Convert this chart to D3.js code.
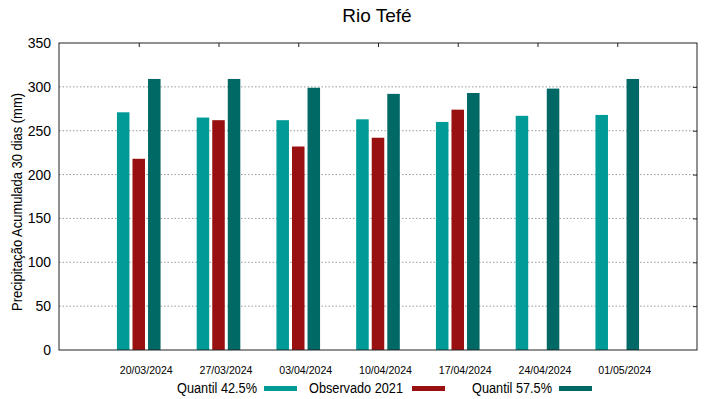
<!DOCTYPE html>
<html>
<head>
<meta charset="utf-8">
<script src="https://cdn.jsdelivr.net/npm/d3@7"></script>
<style>
  body { margin: 0; background: #fff; }
  text { font-family: "Liberation Sans", Arial, sans-serif; }
</style>
</head>
<body>
<svg id="chart" width="719" height="399"></svg>
<script>
const dates = ["20/03/2024", "27/03/2024", "03/04/2024", "10/04/2024", "17/04/2024", "24/04/2024", "01/05/2024"];
const q425 = [271, 265, 262, 263, 260, 267, 268];
const obs2021 = [218, 262, 232, 242, 274, null, null];
const q575 = [309, 309, 299, 292, 293, 298, 309];
const yTicks = [0, 50, 100, 150, 200, 250, 300, 350];

const series = [
  { name: "Quantil 42.5%", values: q425, color: "#009a97", offset: -0.195 },
  { name: "Observado 2021", values: obs2021, color: "#991010", offset: 0 },
  { name: "Quantil 57.5%", values: q575, color: "#006865", offset: 0.195 }
];

const width = 719, height = 399;
const margin = { top: 43, right: 22, bottom: 49, left: 59 };
const svg = d3.select("#chart");

const x = d3.scaleLinear().domain([-1, 7]).range([margin.left, width - margin.right]);
const y = d3.scaleLinear().domain([0, 350]).range([height - margin.bottom, margin.top]);
const barW = x(0.157) - x(0);

// grid
svg.append("g")
  .selectAll("line")
  .data(yTicks.filter(d => d > 0 && d < 350))
  .join("line")
  .attr("x1", margin.left).attr("x2", width - margin.right)
  .attr("y1", d => y(d)).attr("y2", d => y(d))
  .attr("stroke", "#999").attr("stroke-width", 1)
  .attr("stroke-dasharray", "1.5,2");

// bars
series.forEach(s => {
  svg.append("g")
    .selectAll("rect")
    .data(s.values.map((v, i) => ({ v, i })).filter(d => d.v != null))
    .join("rect")
    .attr("x", d => x(d.i + s.offset) - barW / 2)
    .attr("width", barW)
    .attr("y", d => y(d.v))
    .attr("height", d => y(0) - y(d.v))
    .attr("fill", s.color);
});

// frame
svg.append("rect")
  .attr("x", margin.left).attr("y", margin.top)
  .attr("width", width - margin.left - margin.right)
  .attr("height", height - margin.top - margin.bottom)
  .attr("fill", "none").attr("stroke", "#222").attr("stroke-width", 1);

// y axis labels
svg.append("g")
  .attr("transform", `translate(${margin.left},0)`)
  .call(d3.axisLeft(y).tickValues(yTicks).tickSize(0).tickPadding(8))
  .call(g => g.select(".domain").remove())
  .call(g => g.selectAll("text").attr("font-size", 14).attr("fill", "#000")
    .attr("font-family", "Liberation Sans, Arial, sans-serif"));

// right ticks
svg.append("g")
  .attr("transform", `translate(${width - margin.right},0)`)
  .call(d3.axisRight(y).tickValues(yTicks.slice(1, -1)).tickSize(-4).tickFormat(""))
  .call(g => g.select(".domain").remove())
  .call(g => g.selectAll("line").attr("stroke", "#222"));

// top ticks
svg.append("g")
  .attr("transform", `translate(0,${margin.top})`)
  .call(d3.axisTop(x).tickValues(d3.range(dates.length)).tickSize(-4).tickFormat(""))
  .call(g => g.select(".domain").remove())
  .call(g => g.selectAll("text").remove())
  .call(g => g.selectAll("line").attr("stroke", "#222"));

// x labels (shifted right a bit, like the original)
svg.append("g")
  .attr("transform", `translate(0,${height - margin.bottom})`)
  .call(d3.axisBottom(x).tickValues(d3.range(dates.length)).tickSize(0).tickPadding(16)
    .tickFormat(i => dates[i]))
  .call(g => g.select(".domain").remove())
  .call(g => g.selectAll("text").attr("font-size", 11).attr("fill", "#000")
    .attr("dx", 7)
    .attr("textLength", 53).attr("lengthAdjust", "spacingAndGlyphs")
    .attr("font-family", "Liberation Sans, Arial, sans-serif"));

// title
svg.append("text")
  .attr("x", 377).attr("y", 22)
  .attr("text-anchor", "middle")
  .attr("font-size", 19)
  .text("Rio Tefé");

// y title
svg.append("text")
  .attr("transform", `translate(22,${202}) rotate(-90)`)
  .attr("text-anchor", "middle")
  .attr("font-size", 14)
  .attr("textLength", 218).attr("lengthAdjust", "spacingAndGlyphs")
  .text("Precipitação Acumulada 30 dias (mm)");

// legend
const legendPos = [
  { textStart: 177, textLen: 80, sw: 264 },
  { textStart: 309, textLen: 94, sw: 412 },
  { textStart: 472, textLen: 80, sw: 559 }
];
series.forEach((s, i) => {
  const p = legendPos[i];
  svg.append("text")
    .attr("x", p.textStart).attr("y", 393)
    .attr("font-size", 14)
    .attr("textLength", p.textLen).attr("lengthAdjust", "spacingAndGlyphs")
    .text(s.name);
  svg.append("rect")
    .attr("x", p.sw).attr("y", 386)
    .attr("width", 33).attr("height", 5)
    .attr("fill", s.color);
});
</script>
</body>
</html>
